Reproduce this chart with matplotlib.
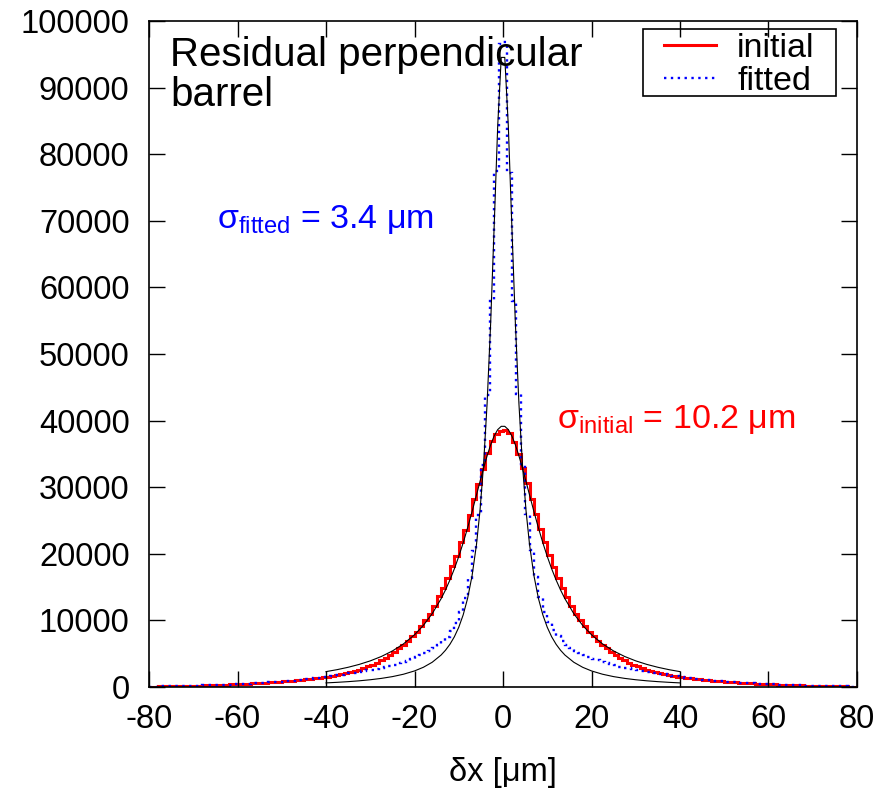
import numpy as np
import matplotlib
matplotlib.use("Agg")
import matplotlib.pyplot as plt
from matplotlib.patches import Rectangle

# fonts: Arial-like face, minus sign as a plain hyphen
plt.rcParams['font.family'] = ['Liberation Sans', 'DejaVu Sans']
plt.rcParams['mathtext.fontset'] = 'custom'
plt.rcParams['mathtext.rm'] = 'Liberation Sans'
plt.rcParams['mathtext.it'] = 'Liberation Sans:italic'
plt.rcParams['mathtext.bf'] = 'Liberation Sans:bold'
plt.rcParams['axes.unicode_minus'] = False

# histogram binning (1 um bins from -80 to 80)
bin_edges = np.arange(-80, 81, 1)

# initial residuals, read outward from 0: bins [0,1],[1,2],... and [-1,0],[-2,-1],...
initial_right = [38600, 38100, 36800, 35000, 32900, 30600, 28200, 25900, 23700, 21700,
                 19800, 18000, 16400, 14900, 13500, 12200, 11000, 10000, 9100, 8300,
                 7600, 6950, 6350, 5800, 5300, 4850, 4400, 4000, 3650, 3350,
                 3080, 2830, 2600, 2400, 2220, 2060, 1910, 1780, 1660, 1560,
                 1460, 1370, 1290, 1210, 1140, 1070, 1000, 940, 880, 830,
                 780, 730, 690, 650, 610, 570, 540, 500, 470, 440,
                 410, 380, 350, 330, 300, 280, 260, 240, 220, 200,
                 180, 165, 150, 135, 120, 105, 90, 75, 60, 50]
initial_left = [38500, 38000, 36900, 35100, 32800, 30500, 28300, 25800, 23600, 21800,
                19700, 18100, 16300, 14900, 13600, 12200, 11000, 10050, 9100, 8250,
                7600, 6900, 6350, 5800, 5250, 4850, 4400, 4000, 3650, 3350,
                3100, 2830, 2600, 2420, 2220, 2060, 1920, 1780, 1670, 1560,
                1470, 1380, 1290, 1210, 1140, 1070, 1000, 940, 880, 830,
                780, 730, 690, 650, 610, 575, 540, 505, 470, 440,
                410, 385, 355, 330, 305, 280, 260, 240, 220, 200,
                185, 165, 150, 135, 120, 105, 90, 75, 60, 50]

# fitted residuals, same layout
fitted_right = [96800, 77200, 57900, 44000, 33500, 26000, 20500, 16500, 13500, 11300,
                9700, 8500, 7600, 6900, 6300, 5850, 5450, 5100, 4800, 4500,
                4250, 4000, 3780, 3580, 3400, 3230, 3070, 2920, 2780, 2650,
                2530, 2420, 2310, 2200, 2100, 2000, 1880, 1780, 1680, 1590,
                1490, 1390, 1300, 1220, 1150, 1080, 1010, 945, 880, 825,
                775, 725, 680, 640, 600, 565, 530, 495, 465, 435,
                405, 375, 350, 325, 300, 280, 260, 240, 220, 200,
                180, 165, 150, 135, 120, 105, 90, 75, 60, 50]
fitted_left = [96500, 77500, 58000, 43800, 33300, 25800, 20400, 16400, 13400, 11200,
               9600, 8450, 7550, 6850, 6250, 5800, 5400, 5050, 4750, 4450,
               4200, 3950, 3730, 3530, 3350, 3180, 3020, 2870, 2730, 2600,
               2480, 2370, 2260, 2150, 2050, 1950, 1850, 1750, 1650, 1560,
               1470, 1380, 1290, 1210, 1140, 1070, 1000, 940, 875, 820,
               770, 720, 675, 635, 595, 560, 525, 490, 460, 430,
               400, 370, 345, 320, 295, 275, 255, 235, 215, 195,
               180, 160, 145, 130, 115, 100, 90, 75, 60, 45]

# fit curves (symmetric, drawn on [-40, 40]), read at these |dx| values
fit_x = [0.4, 1.2, 2.0, 2.8, 3.6, 4.4, 5.2, 6.0, 7.0, 8.0, 9.0, 10, 11, 12, 13, 14,
         16, 18, 20, 22.5, 25, 27.5, 30, 32.5, 35, 37.5, 40]
fit_initial = [39137, 38644, 37692, 36350, 34703, 32842, 30857, 28824, 26309, 23902,
               21657, 19600, 17738, 16066, 14572, 13243, 11011, 9245, 7840, 6466,
               5407, 4578, 3920, 3390, 2958, 2602, 2306]
fit_fitted = [94531, 84225, 69150, 54508, 42510, 33338, 26481, 21357, 16675, 13308,
              10830, 8965, 7531, 6408, 5515, 4793, 3713, 2958, 2410, 1914,
              1556, 1290, 1086, 927, 801, 698, 614]

# axis ticks
x_ticks = [-80, -60, -40, -20, 0, 20, 40, 60, 80]
y_ticks = [0, 10000, 20000, 30000, 40000, 50000, 60000, 70000, 80000, 90000, 100000]

sigma_fitted_text = 'σ$_{\\mathrm{fitted}}$ = 3.4 μm'
sigma_initial_text = 'σ$_{\\mathrm{initial}}$ = 10.2 μm'


def main():
  # assemble full arrays from the two halves
  initial_counts = np.array(initial_left[::-1] + initial_right)
  fitted_counts = np.array(fitted_left[::-1] + fitted_right)
  fx = np.array(fit_x)
  curve_x = np.concatenate([-fx[::-1], fx])
  curve_initial = np.concatenate([np.array(fit_initial)[::-1], fit_initial])
  curve_fitted = np.concatenate([np.array(fit_fitted)[::-1], fit_fitted])

  fig = plt.figure(figsize=(8.94, 7.89), dpi=100)
  ax = fig.add_axes([0.1667, 0.1293, 0.7919, 0.8441])

  # histograms as step outlines
  ax.stairs(initial_counts, bin_edges, baseline=None, color='#ff0000', linewidth=2.2, label='initial')
  ax.stairs(fitted_counts, bin_edges, baseline=None, color='#0000ff', linewidth=1.7,
            linestyle=(0, (1, 1.9)), label='fitted')

  # fit curves
  ax.plot(curve_x, curve_initial, color='black', linewidth=0.8)
  ax.plot(curve_x, curve_fitted, color='black', linewidth=0.8)

  ax.set_xlim(-80, 80)
  ax.set_ylim(0, 100000)
  ax.set_xticks(x_ticks)
  ax.set_xticklabels([str(t) for t in x_ticks])
  ax.set_yticks(y_ticks)
  ax.set_yticklabels([str(t) for t in y_ticks])
  ax.tick_params(direction='in', length=11.5, width=1, top=True, right=True, labelsize=23.5)
  ax.tick_params(axis='x', pad=12)
  ax.tick_params(axis='y', pad=14)
  for sp in ax.spines.values():
    sp.set_linewidth(1.2)

  ax.set_xlabel('δx [μm]', fontsize=23.5)
  ax.xaxis.set_label_coords(0.5, -0.105)

  # annotations
  ax.text(0.03, 0.978, 'Residual perpendicular\nbarrel', transform=ax.transAxes,
          ha='left', va='top', fontsize=29, linespacing=1.08)
  ax.text(-64.6, 68900, sigma_fitted_text, color='#0000ff', fontsize=24.5, ha='left', va='baseline')
  ax.text(12.2, 38900, sigma_initial_text, color='#ff0000', fontsize=24.5, ha='left', va='baseline')

  # key: entries without frame, square box drawn separately
  ax.legend(loc='upper left', bbox_to_anchor=(0.7274, 0.982), fontsize=24.5, frameon=False,
            borderpad=0, labelspacing=0.07, handlelength=1.53, handletextpad=0.62, borderaxespad=0)
  ax.add_patch(Rectangle((0.6977, 0.8874), 0.2726, 0.1006, transform=ax.transAxes,
                         facecolor='none', edgecolor='black', linewidth=1.2, zorder=4))

  fig.savefig('out.png', dpi=100)


if __name__ == "__main__":
  main()
